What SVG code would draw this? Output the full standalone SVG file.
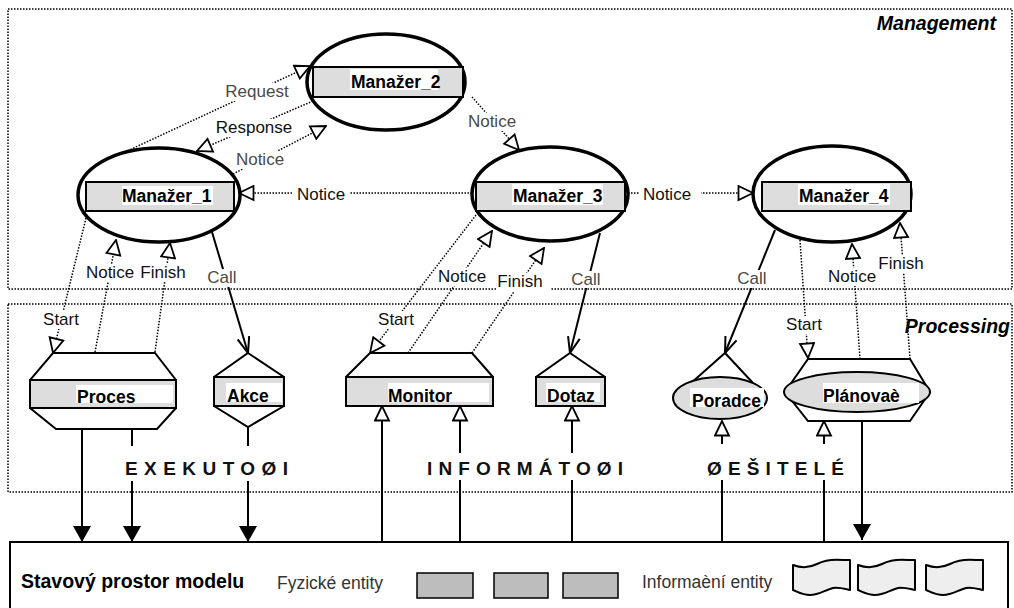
<svg xmlns="http://www.w3.org/2000/svg" width="1014" height="608" viewBox="0 0 1014 608">
  <style>
    .dot { fill: none; stroke: #000; stroke-width: 1.5; stroke-dasharray: 1.5 1.5; }
    .sol { fill: none; stroke: #000; stroke-width: 2; }
    .mgr { fill: #fff; stroke: #000; stroke-width: 3.5; }
    .band { fill: #ddd; stroke: #000; stroke-width: 2; }
    .hull { fill: #fff; stroke: #000; stroke-width: 2; stroke-linejoin: miter; }
    .tag { fill: #fff; }
    .bg { fill: #fff; }
    .nl { font-family: "Liberation Sans", Arial, sans-serif; font-weight: bold; font-size: 17.5px; fill: #000; }
    .cl { font-family: "Liberation Sans", Arial, sans-serif; font-size: 17px; fill: #111; text-anchor: middle; }
    .cg { fill: #4a4a4a; }
    .ttl { font-family: "Liberation Sans", Arial, sans-serif; font-weight: bold; font-style: italic; font-size: 19.5px; fill: #000; text-anchor: end; }
    .sec { font-family: "Liberation Sans", Arial, sans-serif; font-weight: bold; font-size: 19px; fill: #111; }
    .ent { fill: #bdbdbd; stroke: #000; stroke-width: 1.5; }
    .doc { fill: #eee; stroke: #000; stroke-width: 2; stroke-linejoin: round; }
    .bt { font-family: "Liberation Sans", Arial, sans-serif; font-size: 17.5px; fill: #333; }
  </style>
  <defs>
    <marker id="tri" viewBox="0 0 17 17" refX="16" refY="8.5" markerWidth="17" markerHeight="17" markerUnits="userSpaceOnUse" orient="auto">
      <path d="M1.5,1.5 L16,8.5 L1.5,15.5 Z" fill="#fff" stroke="#000" stroke-width="1.8" stroke-dasharray="none"/>
    </marker>
    <marker id="vee" viewBox="0 0 18 14" refX="17" refY="7" markerWidth="18" markerHeight="14" markerUnits="userSpaceOnUse" orient="auto">
      <path d="M1,1 L17,7 L1,13" fill="none" stroke="#000" stroke-width="2"/>
    </marker>
    <marker id="solid" viewBox="0 0 16 18" refX="16" refY="9" markerWidth="16" markerHeight="18" markerUnits="userSpaceOnUse" orient="auto">
      <path d="M0,0 L16,9 L0,18 Z" fill="#000"/>
    </marker>
    <path id="tape" d="M0,6 C8,9 16,9 24,5 C32,1 40,0 50,1 L57,1 L57,31 C52,30 46,28 40,29 C32,31 26,36 17,36 C10,36 5,33 0,31 Z"/>
  </defs>

  <rect width="1014" height="608" fill="#fff"/>

  <!-- layer frames -->
  <g id="regions">
    <rect class="dot" x="8" y="9" width="1004" height="280"/>
    <rect class="dot" x="8" y="304" width="1004" height="188"/>
    <text class="ttl" x="996" y="30">Management</text>
    <text class="ttl" x="1010" y="333">Processing</text>
  </g>

  <!-- connectors -->
  <g id="connectors">
    <!-- manager to manager messages -->
    <line class="dot" x1="125" y1="152" x2="310" y2="66" marker-end="url(#tri)"/>
    <line class="dot" x1="313" y1="101" x2="197" y2="151" marker-end="url(#tri)"/>
    <line class="dot" x1="233" y1="174" x2="326" y2="126" marker-end="url(#tri)"/>
    <line class="dot" x1="472" y1="97" x2="519" y2="150" marker-end="url(#tri)"/>
    <line class="dot" x1="472" y1="193" x2="239" y2="193" marker-end="url(#tri)"/>
    <line class="dot" x1="628" y1="193" x2="753" y2="193" marker-end="url(#tri)"/>

    <!-- Manažer_1 with Proces / Akce -->
    <line class="dot" x1="86" y1="218" x2="53" y2="353" marker-end="url(#tri)"/>
    <line class="dot" x1="95" y1="352" x2="116" y2="240" marker-end="url(#tri)"/>
    <line class="dot" x1="155" y1="352" x2="170" y2="243" marker-end="url(#tri)"/>
    <line class="sol" x1="212" y1="232" x2="248" y2="353" marker-end="url(#vee)"/>

    <!-- Manažer_3 with Monitor / Dotaz -->
    <line class="dot" x1="476" y1="215" x2="370" y2="353" marker-end="url(#tri)"/>
    <line class="dot" x1="408" y1="353" x2="492" y2="231" marker-end="url(#tri)"/>
    <line class="dot" x1="472" y1="353" x2="544" y2="248" marker-end="url(#tri)"/>
    <line class="sol" x1="600" y1="233" x2="570" y2="353" marker-end="url(#vee)"/>

    <!-- Manažer_4 with Poradce / Plánovač -->
    <line class="sol" x1="775" y1="230" x2="725" y2="353" marker-end="url(#vee)"/>
    <line class="dot" x1="800" y1="240" x2="808" y2="358" marker-end="url(#tri)"/>
    <line class="dot" x1="860" y1="359" x2="852" y2="244" marker-end="url(#tri)"/>
    <line class="dot" x1="910" y1="359" x2="900" y2="223" marker-end="url(#tri)"/>

    <!-- processing layer to state space -->
    <line class="sol" x1="82" y1="429" x2="82" y2="542" marker-end="url(#solid)"/>
    <line class="sol" x1="132" y1="427" x2="132" y2="542" marker-end="url(#solid)"/>
    <line class="sol" x1="248" y1="427" x2="248" y2="542" marker-end="url(#solid)"/>
    <line class="sol" x1="862" y1="421" x2="862" y2="540" marker-end="url(#solid)"/>
    <line class="sol" x1="382" y1="542" x2="382" y2="406" marker-end="url(#tri)"/>
    <line class="sol" x1="460" y1="542" x2="460" y2="406" marker-end="url(#tri)"/>
    <line class="sol" x1="572" y1="542" x2="572" y2="406" marker-end="url(#tri)"/>
    <line class="sol" x1="722" y1="542" x2="722" y2="421" marker-end="url(#tri)"/>
    <line class="sol" x1="824" y1="542" x2="824" y2="421" marker-end="url(#tri)"/>

    <!-- connector labels -->
    <rect class="bg" x="224" y="83" width="66" height="18"/>
    <text class="cl cg" x="257" y="97">Request</text>
    <rect class="bg" x="215" y="119" width="79" height="18"/>
    <text class="cl" x="254" y="133">Response</text>
    <rect class="bg" x="235" y="151" width="50" height="18"/>
    <text class="cl cg" x="260" y="165">Notice</text>
    <rect class="bg" x="467" y="113" width="50" height="18"/>
    <text class="cl cg" x="492" y="127">Notice</text>
    <rect class="bg" x="292" y="186" width="58" height="18"/>
    <text class="cl" x="321" y="200">Notice</text>
    <rect class="bg" x="639" y="186" width="62" height="18"/>
    <text class="cl" x="667" y="200">Notice</text>

    <rect class="bg" x="42" y="311" width="39" height="18"/>
    <text class="cl" x="61" y="325">Start</text>
    <rect class="bg" x="84" y="264" width="52" height="18"/>
    <text class="cl" x="110" y="278">Notice</text>
    <rect class="bg" x="140" y="264" width="47" height="18"/>
    <text class="cl" x="163" y="278">Finish</text>
    <rect class="bg" x="206" y="269" width="33" height="18"/>
    <text class="cl cg" x="222" y="283">Call</text>

    <rect class="bg" x="377" y="311" width="39" height="18"/>
    <text class="cl" x="396" y="325">Start</text>
    <rect class="bg" x="436" y="268" width="52" height="18"/>
    <text class="cl" x="462" y="282">Notice</text>
    <rect class="bg" x="496" y="273" width="55" height="19"/>
    <text class="cl" x="520" y="287">Finish</text>
    <rect class="bg" x="571" y="271" width="33" height="17"/>
    <text class="cl cg" x="586" y="285">Call</text>

    <rect class="bg" x="736" y="270" width="33" height="18"/>
    <text class="cl cg" x="752" y="284">Call</text>
    <rect class="bg" x="785" y="316" width="39" height="18"/>
    <text class="cl" x="804" y="330">Start</text>
    <rect class="bg" x="826" y="268" width="52" height="18"/>
    <text class="cl" x="852" y="282">Notice</text>
    <rect class="bg" x="878" y="255" width="47" height="18"/>
    <text class="cl" x="901" y="269">Finish</text>
  </g>

  <!-- agent group captions -->
  <g id="sections">
    <rect class="bg" x="121" y="446" width="170" height="35"/>
    <text class="sec" x="125" y="475" textLength="163" lengthAdjust="spacing">EXEKUTOØI</text>
    <rect class="bg" x="423" y="453" width="203" height="27"/>
    <text class="sec" x="427" y="475" textLength="196" lengthAdjust="spacing">INFORMÁTOØI</text>
    <rect class="bg" x="703" y="444" width="144" height="36"/>
    <text class="sec" x="707" y="475" textLength="137" lengthAdjust="spacing">ØEŠITELÉ</text>
  </g>

  <!-- managers -->
  <g id="manazer-2">
    <ellipse class="mgr" cx="386" cy="82" rx="79" ry="48"/>
    <rect class="band" x="313" y="67" width="150" height="30"/>
    <rect class="tag" x="350" y="69" width="88" height="21"/>
    <text class="nl" x="351" y="88">Manažer_2</text>
  </g>
  <g id="manazer-1">
    <ellipse class="mgr" cx="159" cy="195" rx="81" ry="47"/>
    <rect class="band" x="86" y="182" width="148" height="29"/>
    <rect class="tag" x="122" y="186" width="91" height="19"/>
    <text class="nl" x="122" y="202">Manažer_1</text>
  </g>
  <g id="manazer-3">
    <ellipse class="mgr" cx="550" cy="194" rx="78" ry="47"/>
    <rect class="band" x="476" y="182" width="149" height="29"/>
    <rect class="tag" x="512" y="184" width="91" height="21"/>
    <text class="nl" x="513" y="202">Manažer_3</text>
  </g>
  <g id="manazer-4">
    <ellipse class="mgr" cx="832" cy="194" rx="79" ry="48"/>
    <rect class="band" x="762" y="182" width="149" height="29"/>
    <rect class="tag" x="798" y="184" width="92" height="21"/>
    <text class="nl" x="799" y="202">Manažer_4</text>
  </g>

  <!-- executors -->
  <g id="proces">
    <polygon class="hull" points="53,353 155,353 176,380 176,408 157,429 56,429 30,408 30,380"/>
    <rect class="band" x="30" y="380" width="146" height="28"/>
    <rect class="tag" x="76" y="385" width="97" height="18"/>
    <text class="nl" x="77" y="403">Proces</text>
  </g>
  <g id="akce">
    <polygon class="hull" points="248,353 284,377 284,406 248,427 214,406 214,377"/>
    <rect class="band" x="214" y="377" width="70" height="29"/>
    <rect class="tag" x="226" y="383" width="56" height="19"/>
    <text class="nl" x="227" y="402">Akce</text>
  </g>

  <!-- informers -->
  <g id="monitor">
    <polygon class="hull" points="370,353 472,353 493,377 493,406 346,406 346,377"/>
    <rect class="band" x="346" y="377" width="147" height="29"/>
    <rect class="tag" x="388" y="383" width="101" height="19"/>
    <text class="nl" x="388" y="402">Monitor</text>
  </g>
  <g id="dotaz">
    <polygon class="hull" points="570,353 605,377 605,406 536,406 536,377"/>
    <rect class="band" x="536" y="377" width="69" height="29"/>
    <rect class="tag" x="546" y="383" width="54" height="19"/>
    <text class="nl" x="547" y="402">Dotaz</text>
  </g>

  <!-- solvers -->
  <g id="poradce">
    <polyline class="sol" points="690,384 725,353 753,383"/>
    <ellipse class="band" cx="720" cy="398" rx="47" ry="21"/>
    <rect class="tag" x="690" y="388" width="74" height="19"/>
    <text class="nl" x="692" y="407">Poradce</text>
  </g>
  <g id="planovac">
    <polygon class="hull" points="808,359 910,359 930,392 910,421 808,421 785,392"/>
    <ellipse class="band" cx="857" cy="392" rx="73" ry="20"/>
    <rect class="tag" x="823" y="383" width="96" height="20"/>
    <text class="nl" x="823" y="402">Plánovaè</text>
  </g>

  <!-- model state space -->
  <g id="stavovy-prostor">
    <rect x="10" y="542" width="998" height="80" fill="#fff" stroke="#000" stroke-width="2"/>
    <text x="21" y="588" font-family="Liberation Sans, Arial, sans-serif" font-weight="bold" font-size="19.5" fill="#000">Stavový prostor modelu</text>
    <text class="bt" x="277" y="589">Fyzické entity</text>
    <rect class="ent" x="417" y="573" width="56" height="25"/>
    <rect class="ent" x="494" y="573" width="54" height="25"/>
    <rect class="ent" x="563" y="573" width="55" height="25"/>
    <text class="bt" x="642" y="588">Informaèní entity</text>
    <use href="#tape" class="doc" transform="translate(793,559)"/>
    <use href="#tape" class="doc" transform="translate(858,559)"/>
    <use href="#tape" class="doc" transform="translate(926,559)"/>
  </g>
</svg>
